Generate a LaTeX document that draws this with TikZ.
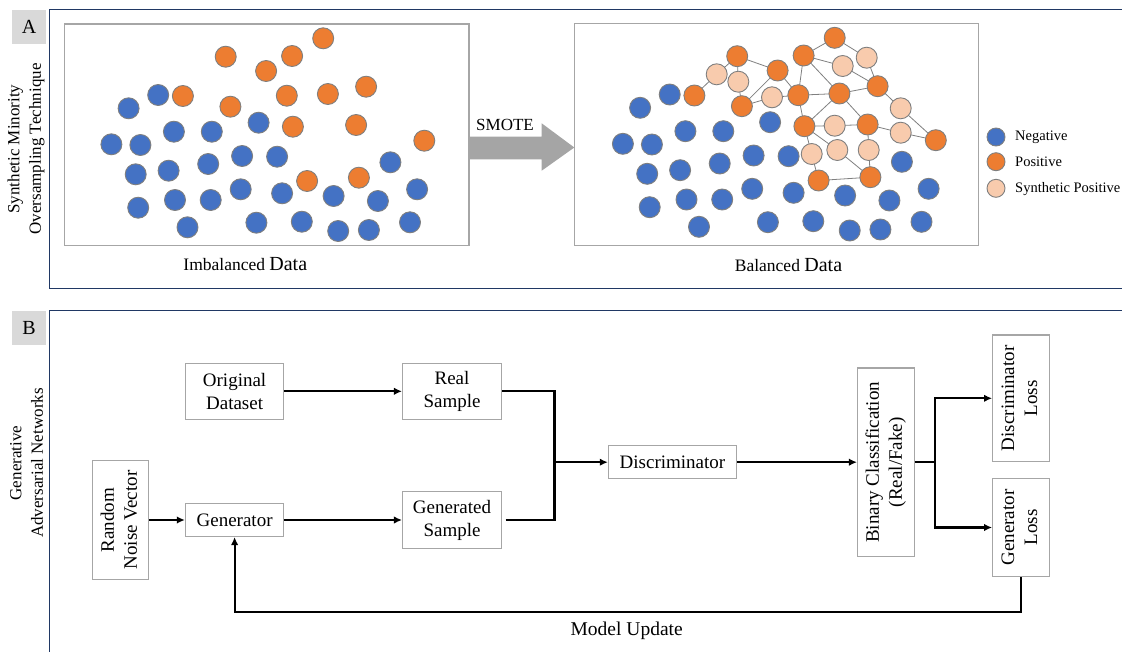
\documentclass[tikz,border=0pt]{standalone}
\usepackage{fontspec}
\setmainfont{Liberation Serif}
\usetikzlibrary{arrows.meta,backgrounds}
\definecolor{negblue}{HTML}{4472C4}
\definecolor{posorange}{HTML}{ED7D31}
\definecolor{synpeach}{HTML}{F8CBAD}
\definecolor{panelframe}{HTML}{203864}
\definecolor{tagfill}{HTML}{D9D9D9}
\definecolor{boxgray}{HTML}{A6A6A6}
\definecolor{ringgray}{HTML}{7F7F7F}
\definecolor{smotegray}{HTML}{A5A5A5}
\tikzset{
  ball/.style={circle, minimum size=21pt, inner sep=0pt, draw=ringgray, line width=0.9pt},
  negball/.style={ball, fill=negblue},
  posball/.style={ball, fill=posorange},
  synball/.style={ball, fill=synpeach},
  link/.style={draw=ringgray, line width=0.8pt},
  flowbox/.style={draw=boxgray, line width=1.1pt, inner sep=0pt, align=center,
    font=\fontsize{19}{23}\selectfont},
  flow/.style={line width=2.2pt},
  arr/.style={flow, -{Latex[length=8pt,width=7.5pt]}},
  panel/.style={draw=panelframe, line width=1.3pt},
  tag/.style={fill=tagfill, inner sep=0pt, font=\fontsize{20}{24}\selectfont},
  sidelabel/.style={rotate=90, align=center, inner sep=0pt, font=\fontsize{17}{21.5}\selectfont},
  plotbox/.style={draw=boxgray, line width=1.5pt, inner sep=0pt},
  legendtext/.style={anchor=base west, inner sep=0pt, font=\fontsize{14.5}{17}\selectfont},
}
\newcommand{\vtext}[1]{\rotatebox{90}{\begin{tabular}{@{}c@{}}#1\end{tabular}}}
\begin{document}
\begin{tikzpicture}[x=1pt,y=-1pt]
\useasboundingbox (0,0) rectangle (1122,651);
\clip (0,0) rectangle (1122,651);

% ---------- panel frames, tags and side titles ----------
\draw[panel] (49.3,9.6) rectangle (1135,288.3);
\draw[panel] (49.3,310.7) rectangle (1135,665);
\node[tag, minimum width=33.5pt, minimum height=34.7pt] (tagA) at (29,27) {A};
\node[tag, minimum width=33.5pt, minimum height=34.3pt] (tagB) at (29,327.9) {B};
\node[sidelabel] (sideA) at (26,149) {Synthetic Minority\\Oversampling Technique};
\node[sidelabel] (sideB) at (26.7,463) {Generative\\Adversarial Networks};

% ---------- panel A: scatter boxes ----------
\node[plotbox, minimum width=404.7pt, minimum height=221.7pt] (imb) at (266.65,134.85) {};
\node[plotbox, minimum width=404.3pt, minimum height=222.4pt] (bal) at (776.45,134.5) {};

% SMOTE block arrow between the two boxes
\fill[smotegray] (469,136.7) -- (541.7,136.7) -- (541.7,123.3) -- (574.3,147.5)
  -- (541.7,170.7) -- (541.7,159.3) -- (469,159.3) -- cycle;
\node[anchor=base, inner sep=0pt, font=\fontsize{17}{20}\selectfont] (smote) at (505,130) {SMOTE};

% negatives (same layout in both boxes)
\foreach \x/\y [count=\i] in {158.2/95, 128.6/108.3, 111.4/144.3, 140.4/145, 173.9/131.7,
  211.8/131.7, 258.6/122.7, 135.7/174.3, 168.6/170.7, 208.2/164, 242.1/156, 277.1/156.7,
  390.4/162.3, 138.2/207.7, 175/200, 210.7/200, 240.7/189.3, 282.1/193.3, 333.6/196,
  377.9/201, 417.1/189.3, 187.5/227.3, 256.4/222.7, 301.8/221.7, 338.2/231, 368.9/230,
  410/222.3} {
  \node[negball] (lneg\i) at (\x,\y) {};
  \node[negball] (rneg\i) at ({\x+511.5},{\y-0.5}) {};
}

% positives (same layout in both boxes)
\foreach \x/\y [count=\i] in {323.2/38.3, 225.7/56.7, 292.1/56, 266.1/71, 182.9/96,
  230.4/106.7, 286.8/95.7, 327.9/94, 366.1/86.7, 292.9/126.7, 356.1/125, 424.3/140.7,
  307.1/181, 358.9/177.7} {
  \node[posball] (lpos\i) at (\x,\y) {};
  \node[posball] (rpos\i) at ({\x+511.5},{\y-0.5}) {};
}

% synthetic positives
\foreach \x/\y [count=\i] in {716.7/74.3, 738.3/81.7, 772/97.3, 842.7/66, 866.7/57.7,
  900.7/108.3, 834.7/125.7, 900.7/132.7, 811.7/154, 837.3/150, 868.7/150} {
  \node[synball] (rsyn\i) at (\x,\y) {};
}

% interpolation links
\begin{scope}[on background layer]
\foreach \a/\b in {rpos5/rsyn1, rsyn1/rpos2, rpos2/rsyn2, rsyn2/rpos6, rpos2/rpos4,
  rpos6/rpos4, rpos6/rsyn3, rsyn3/rpos7, rpos4/rpos7, rpos7/rpos3, rpos3/rpos1,
  rpos3/rsyn4, rpos3/rpos8, rpos1/rsyn5, rsyn4/rpos9, rsyn5/rpos9, rpos7/rpos8,
  rpos8/rpos9, rpos8/rpos10, rpos8/rpos11, rpos7/rpos10, rpos10/rsyn7, rsyn7/rpos11,
  rpos9/rsyn6, rsyn6/rpos12, rpos11/rsyn8, rsyn8/rpos12, rpos10/rsyn9, rpos10/rsyn10,
  rsyn9/rpos13, rsyn10/rpos14, rpos11/rsyn11, rsyn11/rpos14, rpos13/rpos14}
  \draw[link] (\a.center) -- (\b.center);
\end{scope}

% captions
\node[anchor=base, inner sep=0pt] (imbcap) at (245.3,270)
  {{\fontsize{17.5}{20}\selectfont Imbalanced }{\fontsize{20}{24}\selectfont Data}};
\node[anchor=base, inner sep=0pt] (balcap) at (788.5,271)
  {{\fontsize{17.5}{20}\selectfont Balanced }{\fontsize{20}{24}\selectfont Data}};

% legend
\node[negball, minimum size=18pt] (lgneg) at (996,137) {};
\node[posball, minimum size=18pt] (lgpos) at (996,161.7) {};
\node[synball, minimum size=18pt] (lgsyn) at (996,188.3) {};
\node[legendtext] (lgnegt) at (1015,140) {Negative};
\node[legendtext] (lgpost) at (1015,166) {Positive};
\node[legendtext] (lgsynt) at (1015,192.5) {Synthetic Positive};

% ---------- panel B: GAN flow ----------
\node[flowbox, minimum width=98.5pt, minimum height=56pt] (orig) at (234.6,391.3) {Original\\Dataset};
\node[flowbox, minimum width=99pt, minimum height=56pt] (real) at (452,391.3) {Real\\Sample};
\node[flowbox, minimum width=56.4pt, minimum height=118.6pt] (noise) at (120.7,520) {\vtext{Random\\Noise Vector}};
\node[flowbox, minimum width=98.5pt, minimum height=33pt] (gen) at (234.6,520) {Generator};
\node[flowbox, minimum width=99pt, minimum height=56.6pt] (gsamp) at (452,520) {Generated\\Sample};
\node[flowbox, minimum width=128.3pt, minimum height=33pt] (disc) at (672.5,462.2) {Discriminator};
\node[flowbox, minimum width=56.6pt, minimum height=188.4pt] (binary) at (885.8,462.2) {\vtext{Binary Classification\\(Real/Fake)}};
\node[flowbox, minimum width=56.6pt, minimum height=126.7pt] (dloss) at (1020.9,398.3) {\vtext{Discriminator\\Loss}};
\node[flowbox, minimum width=56.6pt, minimum height=98.4pt] (gloss) at (1020.9,527.5) {\vtext{Generator\\Loss}};

\coordinate (merge) at (554.5,462.2);
\coordinate (split) at (935.3,462.2);
\coordinate (fback) at (1020.9,611.7);

\draw[arr] (orig.east) -- (real.west);
\draw[arr] (noise.east) -- (gen.west);
\draw[arr] (gen.east) -- (gsamp.west);
\draw[flow] (real.east) -| (merge);
\draw[flow] ([xshift=3.5pt]gsamp.east) -| (merge);
\draw[arr] (merge) -- (disc.west);
\draw[arr] (disc.east) -- (binary.west);
\draw[flow] (binary.east) -- (split);
\draw[arr] (split) |- (dloss.west);
\draw[arr] (split) |- (gloss.west);
\draw[arr] (gloss.south) -- (fback) -| (gen.south);

\node[anchor=base, inner sep=0pt, font=\fontsize{19.5}{23}\selectfont] (upd) at (626.7,635.7) {Model Update};
\end{tikzpicture}
\end{document}
